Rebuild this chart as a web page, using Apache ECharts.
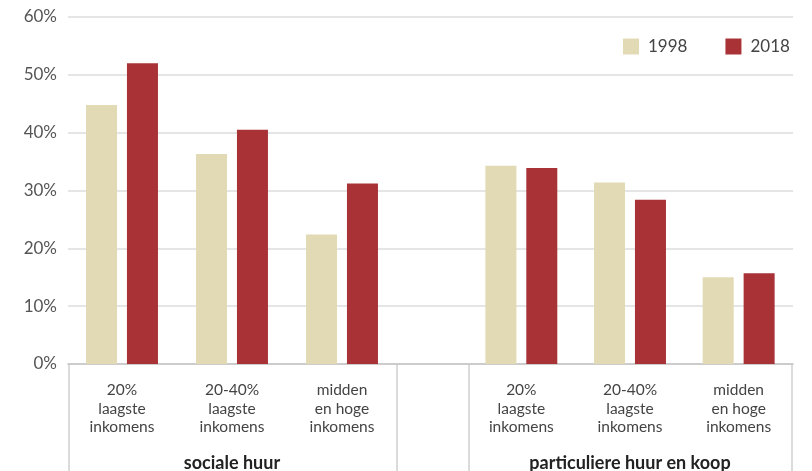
<!DOCTYPE html>
<html>
<head>
<meta charset="utf-8">
<script src="https://cdn.jsdelivr.net/npm/echarts@6/dist/echarts.min.js"></script>
<style>
html,body{margin:0;padding:0;background:#fff;}
#c{width:812px;height:471px;}
</style>
</head>
<body>
<div id="c"></div>
<script>
const categories = ['20%\nlaagste\ninkomens', '20-40%\nlaagste\ninkomens', 'midden\nen hoge\ninkomens'];
const groupNames = ['sociale huur', 'particuliere huur en koop'];
const seriesNames = ['1998', '2018'];
const sociale1998 = [44.8, 36.3, 22.4];
const sociale2018 = [52.0, 40.5, 31.2];
const particulier1998 = [34.3, 31.4, 15.0];
const particulier2018 = [33.9, 28.4, 15.7];
const yTicks = [0, 10, 20, 30, 40, 50, 60];

const colors = ['#e2dab4', '#a83236'];
const FONT = 'Lato';
const TOP = 17, BOTTOM = 107;
const g1 = {left: 67, width: 330};
const g2 = {left: 467, width: 326};

const chart = echarts.init(document.getElementById('c'), null, {renderer: 'canvas'});

function catAxis(idx, name) {
  return {
    type: 'category', gridIndex: idx, data: categories,
    axisLine: {show: false}, axisTick: {show: false},
    axisLabel: {margin: 17, color: '#444', fontSize: 15.5, lineHeight: 18.5, fontFamily: FONT},
    name: name, nameLocation: 'middle', nameGap: 90,
    nameTextStyle: {fontWeight: 'bold', fontSize: 18, color: '#222', fontFamily: FONT}
  };
}
function hiddenY(idx) {
  return {type: 'value', gridIndex: idx, min: yTicks[0], max: yTicks[yTicks.length - 1], interval: 10, show: false};
}
function bar(name, data, idx, ci) {
  return {
    type: 'bar', name: name, data: data, xAxisIndex: idx, yAxisIndex: idx,
    barWidth: 31, barGap: '32%',
    itemStyle: {color: colors[ci]}
  };
}

const lineX = [g1.left + 2, g1.left + g1.width, g2.left + 2, g2.left + g2.width - 1];

chart.setOption({
  animation: false,
  textStyle: {fontFamily: FONT},
  legend: {
    left: 623, top: 38, padding: 0, itemWidth: 16, itemHeight: 16, itemGap: 38,
    icon: 'rect',
    textStyle: {fontSize: 17, color: '#444', fontFamily: FONT, padding: [0, 0, 0, 4]},
    data: seriesNames
  },
  grid: [
    {left: 68, right: 812 - 793, top: TOP, bottom: BOTTOM, outerBoundsMode: 'none', containLabel: false},
    {left: g1.left, width: g1.width, top: TOP, bottom: BOTTOM, outerBoundsMode: 'none', containLabel: false},
    {left: g2.left, width: g2.width, top: TOP, bottom: BOTTOM, outerBoundsMode: 'none', containLabel: false}
  ],
  xAxis: [
    {type: 'value', gridIndex: 0, min: 0, max: 1, axisLabel: {show: false}, axisTick: {show: false},
     splitLine: {show: false}, axisLine: {show: true, lineStyle: {color: '#c4c4c4', width: 1.5}}},
    catAxis(1, groupNames[0]),
    catAxis(2, groupNames[1])
  ],
  yAxis: [
    {type: 'value', gridIndex: 0, min: yTicks[0], max: yTicks[yTicks.length - 1], interval: 10,
     axisLine: {show: false}, axisTick: {show: false},
     axisLabel: {formatter: '{value}%', color: '#555', fontSize: 17, margin: 11, fontFamily: FONT},
     splitLine: {show: true, lineStyle: {color: '#dcdcdc', width: 1.5}}},
    hiddenY(1), hiddenY(2)
  ],
  series: [
    bar(seriesNames[0], sociale1998, 1, 0),
    bar(seriesNames[1], sociale2018, 1, 1),
    bar(seriesNames[0], particulier1998, 2, 0),
    bar(seriesNames[1], particulier2018, 2, 1)
  ],
  graphic: lineX.map(x => ({
    type: 'line', silent: true,
    shape: {x1: x, y1: 471 - BOTTOM, x2: x, y2: 471},
    style: {stroke: '#cfcfcf', lineWidth: 1.5}
  }))
});
</script>
</body>
</html>
